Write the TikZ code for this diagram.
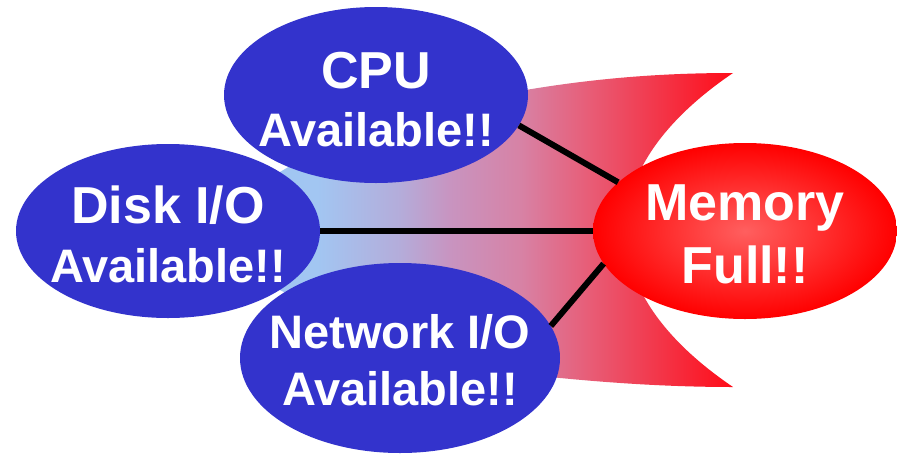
\documentclass[tikz,border=0pt]{standalone}
\usepackage{fontspec}
\setmainfont{Liberation Sans}
\usetikzlibrary{shapes.geometric}
\definecolor{ballblue}{RGB}{51,51,204}
\definecolor{memin}{RGB}{255,95,95}
\definecolor{memout}{RGB}{255,0,0}
\pgfdeclarehorizontalshading{fanshade}{100bp}{
  rgb(0bp)=(0.627,0.776,0.949);
  rgb(25bp)=(0.627,0.776,0.949);
  rgb(32bp)=(0.635,0.776,0.949);
  rgb(40.5bp)=(0.706,0.675,0.855);
  rgb(45.7bp)=(0.784,0.580,0.753);
  rgb(53bp)=(0.843,0.510,0.647);
  rgb(60.2bp)=(0.910,0.361,0.463);
  rgb(75bp)=(1,0.047,0.094);
  rgb(100bp)=(1,0.047,0.094)}
\tikzset{
  ballnode/.style={ellipse, fill=ballblue, draw=none, inner sep=0pt},
  bigtxt/.style={anchor=base, text=white, inner sep=0pt, font=\bfseries\fontsize{52}{60}\selectfont},
  smalltxt/.style={anchor=base, text=white, inner sep=0pt, font=\bfseries\fontsize{47}{56}\selectfont},
  link/.style={line width=6pt, black}
}
\begin{document}
\begin{tikzpicture}[x=1pt,y=-1pt]
\useasboundingbox (0,0) rectangle (897,453);
\fill[white] (0,0) rectangle (897,453);
% funnel shape
\shade[shading=fanshade]
  (250,190) -- (300,160) -- (450,105)
  .. controls (560,80) and (650,73) .. (733,73)
  .. controls (590,170) and (590,290) .. (733,387)
  .. controls (650,387) and (560,380) .. (450,365)
  -- (300,300) -- (250,275) -- cycle;
% ellipses
\node[ballnode, minimum width=304pt, minimum height=176pt] (cpu) at (376,95) {};
\node[ballnode, minimum width=304pt, minimum height=174pt] (disk) at (168,231) {};
\node[ballnode, minimum width=320pt, minimum height=190pt] (net) at (400,358) {};
\node[ellipse, inner sep=0pt, minimum width=304pt, minimum height=176pt,
      inner color=memin, outer color=memout] (mem) at (745,231) {};
% connectors
\draw[link] (cpu.-12) -- (mem.159);
\draw[link] (disk.east) -- (mem.west);
\draw[link] (net.12) -- (mem.-167);
% texts
\node[bigtxt] (cpua) at (376,88) {CPU};
\node[smalltxt] (cpub) at (376,146) {Available!!};
\node[bigtxt] (diska) at (168,223) {Disk I/O};
\node[smalltxt] (diskb) at (168,282) {Available!!};
\node[smalltxt] (neta) at (400,348) {Network I/O};
\node[smalltxt] (netb) at (400,405) {Available!!};
\node[bigtxt] (mema) at (745,220) {Memory};
\node[bigtxt] (memb) at (745,283) {Full!!};
\end{tikzpicture}
\end{document}
